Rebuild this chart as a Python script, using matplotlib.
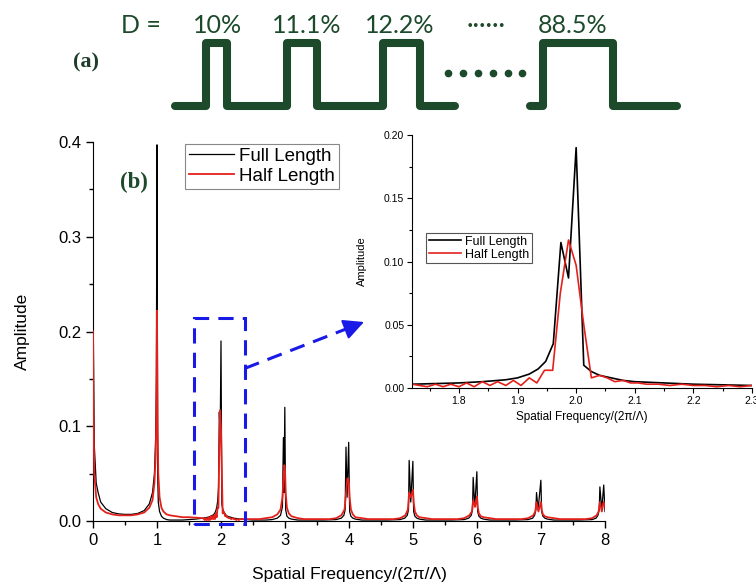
import matplotlib
matplotlib.use("Agg")
import matplotlib.pyplot as plt
from matplotlib.patches import Rectangle
from matplotlib.ticker import MultipleLocator, FormatStrFormatter

plt.rcParams['font.family'] = ['Liberation Sans', 'DejaVu Sans']

# ---- spectrum data ----
# 0 .. 1.6
low_x = [0.0, 0.005, 0.02, 0.05, 0.08, 0.12, 0.2, 0.3, 0.4, 0.5, 0.6, 0.7, 0.8, 0.88, 0.93,
         0.96, 0.98, 0.99, 1.0, 1.01, 1.02, 1.04, 1.07, 1.1, 1.15, 1.2, 1.3, 1.4, 1.5, 1.6]
full_low_y = [0.28, 0.2, 0.08, 0.04, 0.03, 0.02, 0.013, 0.009, 0.0075, 0.007, 0.007, 0.008, 0.011,
              0.018, 0.03, 0.05, 0.09, 0.15, 0.397, 0.05, 0.02, 0.01, 0.005, 0.003, 0.0015, 0.001,
              0.001, 0.001, 0.0015, 0.002]
half_low_y = [0.2, 0.12, 0.05, 0.025, 0.018, 0.013, 0.009, 0.007, 0.006, 0.006, 0.006, 0.007, 0.009,
              0.014, 0.022, 0.04, 0.07, 0.11, 0.222, 0.10, 0.05, 0.025, 0.014, 0.01, 0.007, 0.006,
              0.005, 0.004, 0.004, 0.0035]

# zoomed region 1.72 .. 2.30 (same data in the inset)
zoom_full_x = [1.72, 1.76, 1.80, 1.84, 1.88, 1.90, 1.92, 1.935, 1.948, 1.961, 1.974, 1.987, 2.000,
               2.013, 2.026, 2.04, 2.06, 2.08, 2.10, 2.15, 2.20, 2.25, 2.30]
zoom_full_y = [0.003, 0.0035, 0.004, 0.005, 0.0065, 0.008, 0.011, 0.015, 0.021, 0.035, 0.115, 0.087,
               0.19, 0.018, 0.013, 0.010, 0.008, 0.006, 0.005, 0.004, 0.003, 0.0025, 0.002]
zoom_half_x = [1.720, 1.733, 1.746, 1.760, 1.773, 1.786, 1.800, 1.813, 1.826, 1.840, 1.853, 1.866,
               1.880, 1.893, 1.906, 1.920, 1.933, 1.946, 1.960, 1.973, 1.987, 2.000, 2.013, 2.026,
               2.040, 2.053, 2.066, 2.080, 2.093, 2.106, 2.120, 2.140, 2.160, 2.180, 2.200, 2.220,
               2.240, 2.260, 2.280, 2.300]
zoom_half_y = [0.003, 0.002, 0.001, 0.003, 0.001, 0.003, 0.001, 0.004, 0.001, 0.005, 0.002, 0.005,
               0.002, 0.006, 0.002, 0.008, 0.004, 0.014, 0.014, 0.075, 0.117, 0.097, 0.050, 0.008,
               0.010, 0.008, 0.005, 0.006, 0.004, 0.004, 0.003, 0.003, 0.002, 0.003, 0.002, 0.002,
               0.001, 0.002, 0.001, 0.002]

# 2.4 .. 8
full_high_x = [2.4, 2.5, 2.7, 2.8, 2.88, 2.93, 2.96, 2.975, 2.985, 2.997, 3.01, 3.03, 3.06, 3.1, 3.2,
               3.4, 3.6, 3.8, 3.88, 3.92, 3.94, 3.953, 3.97, 3.995, 4.01, 4.03, 4.06, 4.1, 4.2,
               4.4, 4.6, 4.8, 4.87, 4.91, 4.93, 4.94, 4.965, 4.998, 5.01, 5.03, 5.06, 5.1, 5.2,
               5.4, 5.6, 5.8, 5.87, 5.91, 5.93, 5.94, 5.965, 5.998, 6.01, 6.03, 6.06, 6.1, 6.2,
               6.4, 6.6, 6.8, 6.87, 6.9, 6.92, 6.93, 6.955, 6.998, 7.01, 7.03, 7.06, 7.1, 7.2,
               7.4, 7.6, 7.8, 7.86, 7.89, 7.91, 7.92, 7.95, 7.98, 8.0]
full_high_y = [0.0015, 0.001, 0.001, 0.0015, 0.003, 0.006, 0.015, 0.088, 0.03, 0.12, 0.012, 0.005, 0.003, 0.002, 0.001,
               0.001, 0.001, 0.0015, 0.003, 0.006, 0.012, 0.078, 0.025, 0.083, 0.01, 0.005, 0.003, 0.002, 0.001,
               0.001, 0.001, 0.0015, 0.003, 0.006, 0.012, 0.064, 0.02, 0.063, 0.01, 0.005, 0.003, 0.002, 0.001,
               0.001, 0.001, 0.0015, 0.003, 0.006, 0.012, 0.046, 0.015, 0.052, 0.01, 0.005, 0.003, 0.002, 0.001,
               0.001, 0.001, 0.0015, 0.003, 0.006, 0.012, 0.030, 0.012, 0.043, 0.01, 0.005, 0.003, 0.002, 0.001,
               0.001, 0.001, 0.0015, 0.003, 0.006, 0.012, 0.036, 0.012, 0.038, 0.01]
half_high_x = [2.4, 2.5, 2.6, 2.7, 2.8, 2.88, 2.93, 2.96, 2.975, 2.99, 3.0, 3.01, 3.03, 3.06, 3.1, 3.2, 3.3,
               3.5, 3.7, 3.8, 3.88, 3.93, 3.955, 3.975, 3.99, 4.0, 4.01, 4.03, 4.06, 4.1, 4.2, 4.3,
               4.5, 4.7, 4.8, 4.88, 4.92, 4.94, 4.96, 4.98, 5.0, 5.01, 5.03, 5.06, 5.1, 5.2, 5.3,
               5.5, 5.7, 5.8, 5.88, 5.92, 5.94, 5.97, 6.0, 6.01, 6.03, 6.06, 6.1, 6.2, 6.3,
               6.5, 6.7, 6.8, 6.88, 6.91, 6.93, 6.96, 7.0, 7.01, 7.03, 7.06, 7.1, 7.2, 7.3,
               7.5, 7.7, 7.8, 7.87, 7.9, 7.92, 7.95, 7.98, 8.0]
half_high_y = [0.002, 0.002, 0.002, 0.003, 0.004, 0.007, 0.012, 0.025, 0.045, 0.059, 0.055, 0.03, 0.014, 0.008, 0.005, 0.003, 0.002,
               0.002, 0.002, 0.003, 0.006, 0.012, 0.03, 0.045, 0.044, 0.04, 0.025, 0.012, 0.007, 0.004, 0.003, 0.002,
               0.002, 0.002, 0.003, 0.006, 0.012, 0.03, 0.025, 0.028, 0.033, 0.02, 0.01, 0.006, 0.004, 0.003, 0.002,
               0.002, 0.002, 0.003, 0.006, 0.01, 0.022, 0.015, 0.026, 0.015, 0.008, 0.005, 0.004, 0.003, 0.002,
               0.002, 0.002, 0.003, 0.006, 0.01, 0.02, 0.01, 0.02, 0.012, 0.007, 0.005, 0.004, 0.003, 0.002,
               0.002, 0.002, 0.003, 0.006, 0.01, 0.02, 0.01, 0.02, 0.015]

zoom_box = (1.58, 2.37, -0.003, 0.214)  # x0, x1, y0, y1 in main-axes data

# ---- panel (a) schematic, in figure pixels (top-down) ----
duty_labels = ['D =', '10%', '11.1%', '12.2%', '\u00b7\u00b7\u00b7\u00b7\u00b7\u00b7', '88.5%']
duty_x = [121, 193, 272, 365, 467, 538]
wave_segments = [(175, 455, [(206, 227), (287, 317), (383, 420)]),
                 (530, 677, [(543, 613)])]
dot_x = [448, 463, 478, 493, 508, 522]
wave_low, wave_high = 106, 43

green = '#1d4a2b'
blue = '#1a1ae6'
red = '#e3211c'

W, H = 756, 588
fig = plt.figure(figsize=(W / 100, H / 100), dpi=100)

# main plot
ax = fig.add_axes([93 / W, 1 - 521 / H, (605 - 93) / W, (521 - 142) / H])
ax.plot(low_x + zoom_full_x + full_high_x, full_low_y + zoom_full_y + full_high_y,
        color='black', lw=0.9, label='Full Length', zorder=2)
ax.plot(low_x + zoom_half_x + half_high_x, half_low_y + zoom_half_y + half_high_y,
        color=red, lw=1.3, label='Half Length', zorder=3)
ax.set_xlim(0, 8)
ax.set_ylim(0, 0.4)
ax.xaxis.set_major_locator(MultipleLocator(1))
ax.xaxis.set_minor_locator(MultipleLocator(0.5))
ax.yaxis.set_major_locator(MultipleLocator(0.1))
ax.yaxis.set_minor_locator(MultipleLocator(0.05))
ax.yaxis.set_major_formatter(FormatStrFormatter('%.1f'))
for s in ['top', 'right']:
    ax.spines[s].set_visible(False)
ax.tick_params(which='major', direction='out', length=5, width=1, labelsize=12)
ax.tick_params(which='minor', direction='out', length=3, width=1)
ax.set_xlabel('Spatial Frequency/(2\u03c0/\u039b)', fontsize=12.5, labelpad=14)
ax.set_ylabel('Amplitude', fontsize=12.5, labelpad=20)
leg = ax.legend(loc='upper left', bbox_to_anchor=(185 / W, 1 - 144 / H), bbox_transform=fig.transFigure,
                fontsize=13.5, fancybox=False, edgecolor='#888888', framealpha=1, borderpad=0.2,
                labelspacing=0.15, handlelength=2.4, handletextpad=0.3, borderaxespad=0)
leg.get_frame().set_linewidth(0.8)

bx0, bx1, by0, by1 = zoom_box
ax.add_patch(Rectangle((bx0, by0), bx1 - bx0, by1 - by0, fill=False, ec=blue, lw=2.2,
                       ls=(0, (5, 3)), clip_on=False, zorder=5))

# inset
axi = fig.add_axes([412 / W, 1 - 388 / H, (752 - 412) / W, (388 - 135) / H])
axi.plot(zoom_full_x, zoom_full_y, color='black', lw=1.2, label='Full Length')
axi.plot(zoom_half_x, zoom_half_y, color=red, lw=1.2, label='Half Length')
axi.set_xlim(1.72, 2.30)
axi.set_ylim(0, 0.2)
axi.xaxis.set_major_locator(MultipleLocator(0.1))
axi.xaxis.set_minor_locator(MultipleLocator(0.05))
axi.yaxis.set_major_locator(MultipleLocator(0.05))
axi.yaxis.set_minor_locator(MultipleLocator(0.025))
axi.xaxis.set_major_formatter(FormatStrFormatter('%.1f'))
axi.yaxis.set_major_formatter(FormatStrFormatter('%.2f'))
for s in ['top', 'right']:
    axi.spines[s].set_visible(False)
axi.tick_params(which='major', direction='out', length=3.5, width=0.8, labelsize=7.5, pad=2)
axi.tick_params(which='minor', direction='out', length=2, width=0.8)
axi.set_xlabel('Spatial Frequency/(2\u03c0/\u039b)', fontsize=8.5, labelpad=4)
axi.set_ylabel('Amplitude', fontsize=8, labelpad=12)
leg2 = axi.legend(loc='upper left', bbox_to_anchor=(426 / W, 1 - 233 / H), bbox_transform=fig.transFigure,
                  fontsize=9, fancybox=False, edgecolor='#555555', framealpha=1, borderpad=0.2,
                  labelspacing=0.1, handlelength=2.6, handletextpad=0.3, borderaxespad=0)
leg2.get_frame().set_linewidth(0.8)

# overlay in figure pixels for schematic, labels and the arrow
ov = fig.add_axes([0, 0, 1, 1], zorder=10)
ov.set_xlim(0, W)
ov.set_ylim(H, 0)
ov.axis('off')

for x0, x1, pulses in wave_segments:
    xs, ys = [x0], [wave_low]
    for a, b in pulses:
        xs += [a, a, b, b]
        ys += [wave_low, wave_high, wave_high, wave_low]
    xs.append(x1)
    ys.append(wave_low)
    ov.plot(xs, ys, color=green, lw=5.8, solid_joinstyle='round', solid_capstyle='round')
ov.plot(dot_x, [73] * len(dot_x), 'o', color=green, ms=4.5)

for lab, x in zip(duty_labels, duty_x):
    ov.text(x, 33, lab, fontsize=18, color=green, family=['Lato', 'DejaVu Sans'],
            ha='left', va='baseline')

ov.text(73, 62, '(a)', fontsize=16, fontweight='bold', family='Liberation Serif',
        color='#1d3d2a', ha='left', va='center')
ov.text(120, 182, '(b)', fontsize=16.5, fontweight='bold', family='Liberation Serif',
        color='#1d4a2b', ha='left', va='center')

# dashed arrow from zoom box to inset
sx, sy = ax.transData.transform((bx1, 0.161))
sy = H - sy
ex, ey = 364, 322
ov.plot([sx, ex - 0.9 * (ex - sx) / 10], [sy, ey - 0.9 * (ey - sy) / 10], color=blue, lw=2.2, ls=(0, (5, 3)))
ov.annotate('', xy=(ex, ey), xytext=(ex - (ex - sx) / 9, ey - (ey - sy) / 9),
            arrowprops=dict(arrowstyle='-|>,head_length=0.7,head_width=0.35', color=blue, lw=1.5,
                            mutation_scale=18, shrinkA=0, shrinkB=0))

fig.savefig('out.png', dpi=100)
